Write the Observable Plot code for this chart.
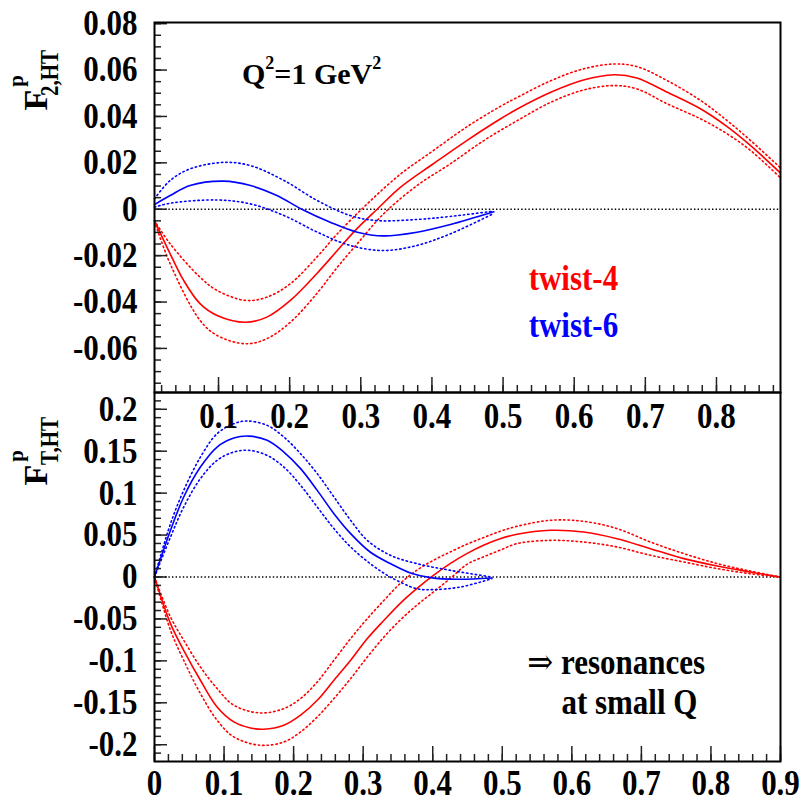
<!DOCTYPE html>
<html><head><meta charset="utf-8">
<script src="https://cdn.jsdelivr.net/npm/d3@7"></script>
<script src="https://cdn.jsdelivr.net/npm/@observablehq/plot@0.6"></script>
<style>
html,body{margin:0;padding:0;background:#fff;}
#chart{position:relative;width:802px;height:801px;overflow:hidden;background:#fff;}
#chart svg{position:absolute;left:0;top:0;}
svg text{font-family:"Liberation Serif","Times New Roman",serif;font-weight:bold;}
</style></head><body><div id="chart"></div>
<script>
// ---------- Top panel: F2,HT (Q^2 = 1 GeV^2) ----------
const f2Tw4X   = [0.01,0.032,0.051,0.074,0.098,0.138,0.168,0.201,0.238,0.267,0.292,0.323,0.356,0.402,0.449,0.496,0.520,0.567,0.613,0.656,0.688,0.731,0.778,0.815,0.848,0.889];
const f2Tw4    = [-0.0049,-0.0192,-0.0307,-0.0407,-0.0458,-0.0487,-0.0465,-0.0393,-0.0278,-0.0178,-0.0092,0.0,0.0095,0.0196,0.0296,0.0389,0.0432,0.0504,0.0557,0.0580,0.0566,0.0504,0.0432,0.0356,0.0274,0.0159];
const f2Tw4HiX = [0.01,0.032,0.074,0.098,0.138,0.168,0.201,0.238,0.267,0.309,0.356,0.402,0.449,0.496,0.520,0.567,0.613,0.656,0.688,0.731,0.778,0.815,0.848,0.889];
const f2Tw4Hi  = [-0.0049,-0.0149,-0.0293,-0.0350,-0.0393,-0.0379,-0.0321,-0.0207,-0.0106,0.0023,0.0152,0.0253,0.0355,0.0443,0.0482,0.0554,0.0605,0.0626,0.0615,0.0554,0.0468,0.0382,0.0296,0.0181];
const f2Tw4LoX = [0.01,0.032,0.074,0.098,0.138,0.168,0.201,0.238,0.267,0.295,0.332,0.379,0.426,0.473,0.520,0.567,0.613,0.656,0.688,0.731,0.778,0.815,0.848,0.889];
const f2Tw4Lo  = [-0.0052,-0.0235,-0.0479,-0.0544,-0.0580,-0.0558,-0.0487,-0.0364,-0.0250,-0.0149,-0.0020,0.0102,0.0196,0.0296,0.0382,0.0461,0.0514,0.0533,0.0519,0.0454,0.0389,0.0325,0.0253,0.0138];

const f2Tw6X   = [0.01,0.032,0.060,0.107,0.145,0.182,0.217,0.257,0.295,0.332,0.379,0.426,0.487];
const f2Tw6    = [0.0020,0.0059,0.0102,0.0121,0.0102,0.0059,0.0,-0.0056,-0.0099,-0.0115,-0.0099,-0.0066,-0.0011];
const f2Tw6HiX = [0.01,0.032,0.060,0.107,0.145,0.192,0.239,0.285,0.323,0.379,0.426,0.487];
const f2Tw6Hi  = [0.0045,0.0124,0.0174,0.0202,0.0188,0.0124,0.0037,-0.0027,-0.0049,-0.0044,-0.0031,-0.0008];
const f2Tw6LoX = [0.01,0.032,0.098,0.145,0.192,0.239,0.285,0.332,0.379,0.426,0.487];
const f2Tw6Lo  = [0.0009,0.0026,0.0040,0.0023,-0.0027,-0.0099,-0.0156,-0.0178,-0.0156,-0.0106,-0.0018];

// ---------- Bottom panel: FT,HT ----------
const fTTw4X   = [0,0.023,0.042,0.066,0.090,0.114,0.138,0.157,0.186,0.210,0.234,0.258,0.282,0.306,0.330,0.353,0.377,0.401,0.425,0.449,0.473,0.497,0.521,0.569,0.617,0.665,0.713,0.761,0.809,0.856,0.899];
const fTTw4    = [0,-0.0556,-0.0874,-0.1231,-0.1550,-0.1728,-0.1800,-0.1815,-0.1768,-0.1648,-0.1470,-0.1231,-0.0993,-0.0734,-0.0516,-0.0317,-0.0139,0.0020,0.0160,0.0279,0.0378,0.0457,0.0509,0.0557,0.0537,0.0457,0.0338,0.0219,0.0131,0.0060,0];
const fTTw4HiX = [0,0.023,0.042,0.066,0.090,0.114,0.152,0.186,0.210,0.234,0.258,0.282,0.306,0.330,0.353,0.377,0.401,0.425,0.449,0.473,0.497,0.521,0.569,0.617,0.665,0.713,0.761,0.809,0.856,0.899];
const fTTw4Hi  = [0,-0.0477,-0.0754,-0.1073,-0.1330,-0.1529,-0.1621,-0.1569,-0.1449,-0.1251,-0.0993,-0.0734,-0.0496,-0.0278,-0.0079,0.0080,0.0199,0.0298,0.0390,0.0470,0.0545,0.0604,0.0676,0.0664,0.0577,0.0417,0.0279,0.0160,0.0072,0];
const fTTw4LoX = [0,0.023,0.042,0.066,0.090,0.114,0.152,0.186,0.210,0.234,0.258,0.282,0.306,0.330,0.353,0.377,0.401,0.425,0.449,0.473,0.497,0.521,0.569,0.617,0.665,0.713,0.761,0.809,0.856,0.899];
const fTTw4Lo  = [0,-0.0635,-0.0993,-0.1390,-0.1708,-0.1907,-0.2006,-0.1967,-0.1847,-0.1669,-0.1449,-0.1211,-0.0954,-0.0715,-0.0516,-0.0337,-0.0179,-0.0019,0.0150,0.0240,0.0320,0.0398,0.0437,0.0417,0.0358,0.0259,0.0179,0.0100,0.0040,0];

const fTTw6X   = [0,0.023,0.042,0.066,0.090,0.114,0.136,0.162,0.186,0.210,0.234,0.258,0.282,0.310,0.339,0.368,0.397,0.435,0.485];
const fTTw6    = [0,0.0557,0.0954,0.1311,0.1550,0.1657,0.1680,0.1630,0.1490,0.1292,0.1033,0.0755,0.0517,0.0298,0.0160,0.0048,-0.0007,-0.0027,-0.0012];
const fTTw6HiX = [0,0.023,0.042,0.066,0.090,0.114,0.133,0.162,0.186,0.210,0.234,0.258,0.282,0.306,0.339,0.377,0.425,0.485];
const fTTw6Hi  = [0,0.0636,0.1033,0.1430,0.1709,0.1828,0.1860,0.1808,0.1669,0.1470,0.1232,0.0954,0.0676,0.0437,0.0259,0.0160,0.0080,0];
const fTTw6LoX = [0,0.023,0.042,0.066,0.090,0.114,0.136,0.162,0.186,0.210,0.234,0.258,0.282,0.310,0.339,0.377,0.401,0.440,0.485];
const fTTw6Lo  = [0,0.0477,0.0834,0.1173,0.1391,0.1490,0.1510,0.1450,0.1311,0.1093,0.0834,0.0577,0.0358,0.0160,0,-0.0139,-0.0150,-0.0119,-0.0020];

// ---------- Ticks ----------
const f2Ticks   = [-0.06,-0.04,-0.02,0,0.02,0.04,0.06,0.08];
const f2Minor   = d3.range(-15,17).map(i => i*0.005);
const xTopTicks = [0.1,0.2,0.3,0.4,0.5,0.6,0.7,0.8];
const xTopMinor = d3.range(1,45).map(i => i*0.02);
const fTTicks   = [-0.2,-0.15,-0.1,-0.05,0,0.05,0.1,0.15,0.2];
const fTMinor   = d3.range(-21,22).map(i => i*0.01);
const xBotTicks = [0,0.1,0.2,0.3,0.4,0.5,0.6,0.7,0.8,0.9];
const xBotMinor = d3.range(0,46).map(i => i*0.02);

const RED = "#ff0000", BLUE = "#0000ff";
const FS = 31;
const fmt = d => String(+d.toFixed(3));
const pts = (xs, ys) => xs.map((x, i) => ({x, y: ys[i]}));

function lineMarks(sets) {
  const out = [];
  for (const [xs, ys, color, dotted] of sets) {
    out.push(Plot.line(pts(xs, ys), {x: "x", y: "y", stroke: color, curve: "catmull-rom",
      strokeWidth: 1.6, strokeDasharray: dotted ? "1.4,3" : null}));
  }
  return out;
}
function axisMarks(yTicks, yMinor, xTicks, xMinor, xPad) {
  const tk = {tickFormat: () => "", strokeWidth: 1.5, stroke: "#222", label: null};
  return [
    Plot.axisY(yTicks, {anchor: "left", tickSize: 0, tickPadding: 17, tickFormat: fmt, fontSize: FS, label: null}),
    Plot.axisY(yTicks, {anchor: "left", tickSize: -13, ...tk}),
    Plot.axisY(yMinor, {anchor: "left", tickSize: -7, ...tk}),
    Plot.axisX(xTicks, {anchor: "bottom", tickSize: 0, tickPadding: xPad, lineAnchor: "middle", tickFormat: fmt, fontSize: FS, label: null}),
    Plot.axisX(xTicks, {anchor: "bottom", tickSize: -15, ...tk}),
    Plot.axisX(xMinor, {anchor: "bottom", tickSize: -7, ...tk})
  ];
}
const baseStyle = {background: "none", overflow: "visible", fontFamily: "'Liberation Serif', serif", fontWeight: "bold"};
const Q2LABEL = "Q2=1 GeV2";
const RESLABEL = "\u21D2 resonances";

const topPlot = Plot.plot({
  width: 802, height: 801,
  marginLeft: 154, marginRight: 22, marginTop: 22, marginBottom: 409,
  x: {domain: [0.01, 0.89], label: null},
  y: {domain: [-0.079, 0.0805], label: null},
  style: baseStyle,
  marks: [
    Plot.ruleY([0], {stroke: "black", strokeWidth: 1.5, strokeDasharray: "1.4,2.2"}),
    ...lineMarks([
      [f2Tw4HiX, f2Tw4Hi, RED, true], [f2Tw4LoX, f2Tw4Lo, RED, true], [f2Tw4X, f2Tw4, RED, false],
      [f2Tw6HiX, f2Tw6Hi, BLUE, true], [f2Tw6LoX, f2Tw6Lo, BLUE, true], [f2Tw6X, f2Tw6, BLUE, false]
    ]),
    Plot.text(["twist-4"], {x: 0.536, y: -0.035, fill: RED, fontSize: FS, textAnchor: "start", lineAnchor: "bottom"}),
    Plot.text(["twist-6"], {x: 0.536, y: -0.0551, fill: BLUE, fontSize: FS, textAnchor: "start", lineAnchor: "bottom"}),
    Plot.text([Q2LABEL], {x: 0.133, y: 0.0541, fill: "black", fontSize: 30, textAnchor: "start", lineAnchor: "bottom"}),
    ...axisMarks(f2Ticks, f2Minor, xTopTicks, xTopMinor, 24),
    Plot.frame({stroke: "black", strokeWidth: 2})
  ]
});

const botPlot = Plot.plot({
  width: 802, height: 801,
  marginLeft: 154, marginRight: 22, marginTop: 392, marginBottom: 40,
  x: {domain: [0, 0.9], label: null},
  y: {domain: [-0.22, 0.22], label: null},
  style: baseStyle,
  marks: [
    Plot.ruleY([0], {stroke: "black", strokeWidth: 1.5, strokeDasharray: "1.4,2.2"}),
    ...lineMarks([
      [fTTw4HiX, fTTw4Hi, RED, true], [fTTw4LoX, fTTw4Lo, RED, true], [fTTw4X, fTTw4, RED, false],
      [fTTw6HiX, fTTw6Hi, BLUE, true], [fTTw6LoX, fTTw6Lo, BLUE, true], [fTTw6X, fTTw6, BLUE, false]
    ]),
    Plot.text([RESLABEL], {x: 0.536, y: -0.1151, fill: "black", fontSize: FS, textAnchor: "start", lineAnchor: "bottom"}),
    Plot.text(["at small Q"], {x: 0.585, y: -0.1628, fill: "black", fontSize: FS, textAnchor: "start", lineAnchor: "bottom"}),
    ...axisMarks(fTTicks, fTMinor, xBotTicks, xBotMinor, 22),
    Plot.frame({stroke: "black", strokeWidth: 2})
  ]
});

const chart = document.getElementById("chart");
chart.appendChild(botPlot);
chart.appendChild(topPlot);

const ns = "http://www.w3.org/2000/svg";
function tspan(parent, str, size, dy, style) {
  const s = document.createElementNS(ns, "tspan");
  if (size) s.setAttribute("font-size", size);
  if (dy) s.setAttribute("dy", dy);
  if (style) s.setAttribute("style", style);
  s.textContent = str;
  parent.appendChild(s);
}

// vertical stretch of the ROOT-like lettering; rich text for special labels
function stretch(svg, k) {
  svg.querySelectorAll('g[aria-label$="tick label"] text, g[aria-label="text"] text').forEach(t => {
    if (t.textContent === Q2LABEL) {
      t.textContent = "";
      tspan(t, "Q", 30, 0); tspan(t, "2", 18, -15); tspan(t, "=1 GeV", 30, 15); tspan(t, "2", 18, -15);
      return;
    }
    if (t.textContent === RESLABEL) {
      t.textContent = "";
      tspan(t, "\u21D2", null, 0, "font-family:'DejaVu Serif',serif;font-weight:normal");
      tspan(t, " resonances", null, 0);
    }
    const tr = t.getAttribute("transform") || "";
    t.setAttribute("transform", tr + ` scale(1,${k})`);
  });
}
stretch(topPlot, 1.15);
stretch(botPlot, 1.15);

// axis titles F^p_{2,HT} and F^p_{T,HT}
function title(svg, tx, ty, str, size, extra = "") {
  const t = document.createElementNS(ns, "text");
  t.setAttribute("transform", `translate(${tx},${ty}) rotate(-90)${extra}`);
  t.setAttribute("fill", "black");
  t.setAttribute("font-size", size);
  t.textContent = str;
  svg.appendChild(t);
}
title(topPlot, 47, 100, "F", 34);
title(topPlot, 22.5, 81, "p", 21);
title(topPlot, 58, 73, "2,HT", 21, " scale(1,1.2)");
title(botPlot, 47, 475, "F", 34);
title(botPlot, 22.5, 456, "p", 21);
title(botPlot, 58, 441, "T,HT", 21, " scale(1,1.2)");
</script></body></html>
